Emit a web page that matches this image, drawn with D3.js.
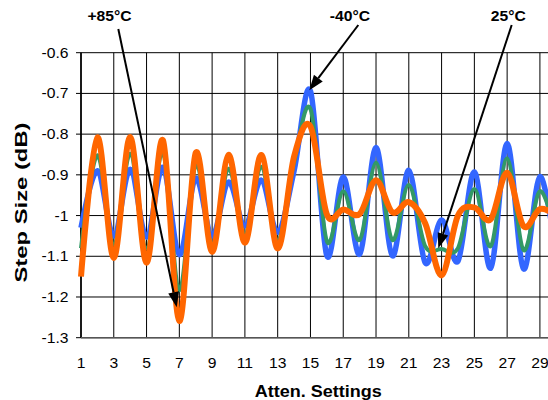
<!DOCTYPE html>
<html>
<head>
<meta charset="utf-8">
<title>Step Size vs Atten. Settings</title>
<style>
  body { margin: 0; background: #fff; }
  text { font-family: Arial, "Liberation Sans", sans-serif; fill: #000; }
</style>
</head>
<body>
<script src="https://cdn.jsdelivr.net/npm/d3@7/dist/d3.min.js"></script>
<script>
// attenuator settings on the x axis
var settings = [1, 2, 3, 4, 5, 6, 7, 8, 9, 10, 11, 12, 13, 14, 15,
                16, 17, 18, 19, 20, 21, 22, 23, 24, 25, 26, 27, 28, 29, 30];

// step size (dB), one list per temperature
var stepMinus40 = [-1.03, -0.89, -1.05, -0.886, -1.053, -0.882, -1.096, -0.909, -1.05, -0.918,
                   -1.025, -0.913, -1.041, -0.89, -0.694, -1.099, -0.905, -1.095, -0.833, -1.099,
                   -0.889, -1.116, -1.011, -1.112, -0.893, -1.129, -0.823, -1.131, -0.904, -1.1];
var step25 = [-1.08, -0.852, -1.07, -0.848, -1.08, -0.845, -1.183, -0.875, -1.07, -0.885,
              -1.045, -0.88, -1.06, -0.87, -0.738, -1.063, -0.94, -1.06, -0.87, -1.06,
              -0.925, -1.075, -1.082, -1.08, -0.935, -1.075, -0.86, -1.085, -0.94, -1.05];
var stepPlus85 = [-1.15, -0.808, -1.104, -0.807, -1.116, -0.815, -1.259, -0.846, -1.089, -0.851,
                  -1.067, -0.851, -1.081, -0.855, -0.781, -0.997, -0.985, -0.996, -0.913, -0.992,
                  -0.967, -1.019, -1.147, -1.0, -0.98, -1.009, -0.895, -1.026, -0.984, -1.0];

var yTicks = [-0.6, -0.7, -0.8, -0.9, -1.0, -1.1, -1.2, -1.3];
var yTickLabels = ["-0.6", "-0.7", "-0.8", "-0.9", "-1", "-1.1", "-1.2", "-1.3"];
var xTicks = [1, 3, 5, 7, 9, 11, 13, 15, 17, 19, 21, 23, 25, 27, 29];
var xGrid = [1, 3, 5, 7, 9, 11, 13, 15, 17, 19, 21, 23, 25, 27, 29, 31];

var series = [
  {name: "-40°C", values: stepMinus40, color: "#3366ff", width: 5.5},
  {name: "25°C", values: step25, color: "#339966", width: 4},
  {name: "+85°C", values: stepPlus85, color: "#ff6600", width: 6}
];

// callouts: label position in pixels, arrow tip on the data
var callouts = [
  {text: "+85°C", tx: 109.5, ty: 20.5, sx: 118.3, sy: 29, tipX: 6.84, tipY: -1.225},
  {text: "-40°C", tx: 350, ty: 20.5, sx: 358.3, sy: 25, tipX: 14.93, tipY: -0.692},
  {text: "25°C", tx: 508.3, ty: 20.5, sx: 511.7, sy: 25, tipX: 22.8, tipY: -1.08}
];

var W = 548, H = 400;
var plotLeft = 81, plotTop = 52.7, plotBottom = 337.7;

var x = d3.scaleLinear().domain([1, 30]).range([plotLeft, plotLeft + 29 * 16.39]);
var y = d3.scaleLinear().domain([-0.6, -1.3]).range([plotTop, plotBottom]);

var svg = d3.select("body").append("svg")
    .attr("width", W)
    .attr("height", H);

// grid
svg.append("g").selectAll("line")
  .data(yTicks).enter().append("line")
  .attr("x1", plotLeft).attr("x2", W)
  .attr("y1", function (d) { return y(d); })
  .attr("y2", function (d) { return y(d); })
  .attr("stroke", "#000").attr("stroke-width", 1);

svg.append("g").selectAll("line")
  .data(xGrid).enter().append("line")
  .attr("x1", function (d) { return x(d); })
  .attr("x2", function (d) { return x(d); })
  .attr("y1", plotTop).attr("y2", plotBottom)
  .attr("stroke", "#000").attr("stroke-width", 1);

// axes lines + y tick marks
svg.append("line").attr("x1", plotLeft).attr("x2", plotLeft).attr("y1", plotTop).attr("y2", plotBottom)
  .attr("stroke", "#000").attr("stroke-width", 1.6);
svg.append("line").attr("x1", plotLeft).attr("x2", W).attr("y1", plotBottom).attr("y2", plotBottom)
  .attr("stroke", "#555").attr("stroke-width", 1.6);
svg.append("g").selectAll("line")
  .data(yTicks).enter().append("line")
  .attr("x1", plotLeft - 5).attr("x2", plotLeft)
  .attr("y1", function (d) { return y(d); })
  .attr("y2", function (d) { return y(d); })
  .attr("stroke", "#000").attr("stroke-width", 1);

// tick labels (picture is a bit wider than tall, so stretch a little)
svg.append("g").selectAll("text")
  .data(yTicks).enter().append("text")
  .attr("transform", function (d) { return "translate(68.5," + (y(d) + 5) + ") scale(1.12,1)"; })
  .attr("text-anchor", "end")
  .style("font-size", "14px")
  .text(function (d, i) { return yTickLabels[i]; });

svg.append("g").selectAll("text")
  .data(xTicks).enter().append("text")
  .attr("transform", function (d) { return "translate(" + x(d) + ",368.3) scale(1.12,1)"; })
  .attr("text-anchor", "middle")
  .style("font-size", "14px")
  .text(function (d) { return d; });

// axis titles
svg.append("text")
  .attr("x", 318.3).attr("y", 397)
  .attr("text-anchor", "middle")
  .attr("textLength", 127).attr("lengthAdjust", "spacingAndGlyphs")
  .style("font-size", "16px").style("font-weight", "bold")
  .text("Atten. Settings");

svg.append("text")
  .attr("transform", "translate(26.5,202.5) rotate(-90)")
  .attr("text-anchor", "middle")
  .attr("textLength", 160).attr("lengthAdjust", "spacingAndGlyphs")
  .style("font-size", "16px").style("font-weight", "bold")
  .text("Step Size (dB)");

// series
var line = d3.line()
  .x(function (d, i) { return x(settings[i]); })
  .y(function (d) { return y(d); })
  .curve(d3.curveCatmullRom.alpha(0));

svg.append("g").selectAll("path")
  .data(series).enter().append("path")
  .attr("d", function (s) { return line(s.values); })
  .attr("fill", "none")
  .attr("stroke", function (s) { return s.color; })
  .attr("stroke-width", function (s) { return s.width; })
  .attr("stroke-linejoin", "round");

// callouts with arrows
var headLen = 15, headHalf = 5.5;
callouts.forEach(function (c) {
  var ex = x(c.tipX), ey = y(c.tipY);
  var dx = ex - c.sx, dy = ey - c.sy, len = Math.sqrt(dx * dx + dy * dy);
  var ux = dx / len, uy = dy / len;
  var bx = ex - ux * headLen, by = ey - uy * headLen;
  svg.append("line")
    .attr("x1", c.sx).attr("y1", c.sy).attr("x2", bx).attr("y2", by)
    .attr("stroke", "#000").attr("stroke-width", 2);
  svg.append("path")
    .attr("d", "M" + ex + "," + ey +
               "L" + (bx - uy * headHalf) + "," + (by + ux * headHalf) +
               "L" + (bx + uy * headHalf) + "," + (by - ux * headHalf) + "Z")
    .attr("fill", "#000");
  svg.append("text")
    .attr("transform", "translate(" + c.tx + "," + c.ty + ") scale(1.12,1)")
    .attr("text-anchor", "middle")
    .style("font-size", "14px").style("font-weight", "bold")
    .text(c.text);
});
</script>
</body>
</html>
